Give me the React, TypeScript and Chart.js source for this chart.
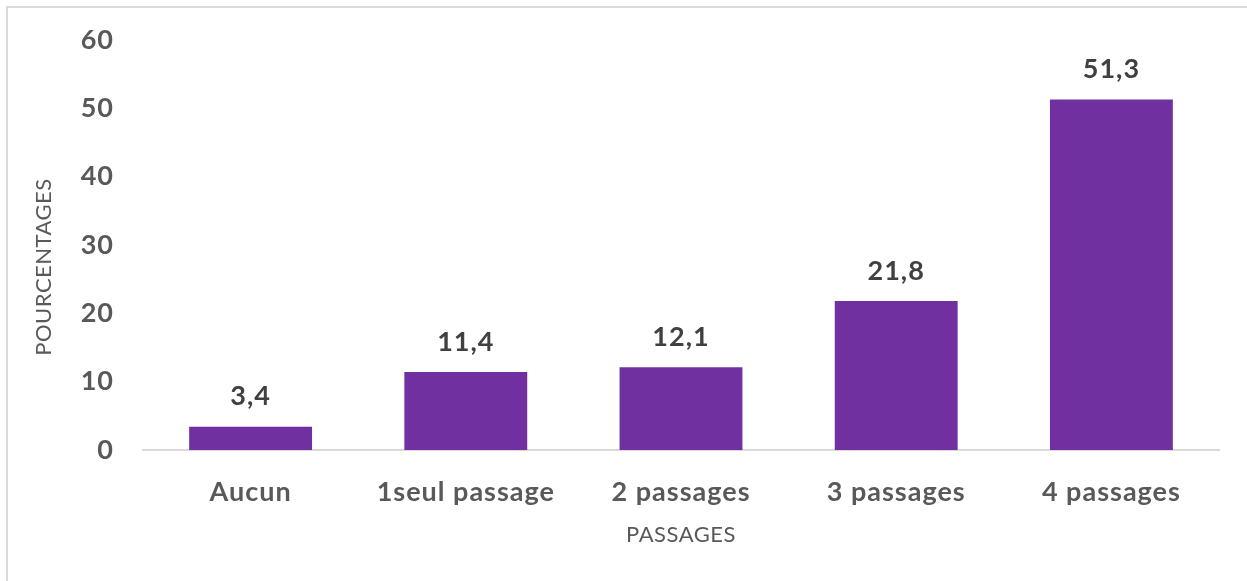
import React, { useEffect, useRef } from "react";
import { Chart, registerables } from "chart.js";

Chart.register(...registerables);

const categories: string[] = ["Aucun", "1seul passage", "2 passages", "3 passages", "4 passages"];
const values: number[] = [3.4, 11.4, 12.1, 21.8, 51.3];
const valueLabels: string[] = ["3,4", "11,4", "12,1", "21,8", "51,3"];
const yTicks: number[] = [0, 10, 20, 30, 40, 50, 60];
const xTitle = "PASSAGES";
const yTitle = "POURCENTAGES";

const FONT = "Lato, 'Open Sans', sans-serif";

const labelsPlugin = {
  id: "labelsAndTitles",
  beforeDraw(chart: any) {
    chart.ctx.letterSpacing = "1px";
  },
  afterDatasetsDraw(chart: any) {
    const { ctx, chartArea } = chart;
    const meta = chart.getDatasetMeta(0);
    ctx.save();
    ctx.letterSpacing = "1px";
    ctx.font = `bold 27px ${FONT}`;
    ctx.fillStyle = "#404040";
    ctx.textAlign = "center";
    ctx.textBaseline = "middle";
    meta.data.forEach((bar: any, i: number) => {
      ctx.fillText(valueLabels[i], bar.x, bar.y - 30);
    });
    ctx.letterSpacing = "0.5px";
    ctx.font = `22px ${FONT}`;
    ctx.fillStyle = "#595959";
    ctx.fillText(xTitle, (chartArea.left + chartArea.right) / 2, 535);
    ctx.translate(44, 267);
    ctx.rotate(-Math.PI / 2);
    ctx.fillText(yTitle, 0, 0);
    ctx.restore();
  },
};

export default function App() {
  const ref = useRef<HTMLCanvasElement | null>(null);
  useEffect(() => {
    if (!ref.current) return;
    const chart = new Chart(ref.current, {
      type: "bar",
      data: {
        labels: categories,
        datasets: [
          {
            data: values,
            backgroundColor: "#7030A0",
            borderWidth: 0,
            categoryPercentage: 1,
            barPercentage: 0.571,
          },
        ],
      },
      options: {
        animation: false,
        responsive: false,
        devicePixelRatio: 1,
        layout: { padding: { left: 0, top: 40, right: 28, bottom: 0 } },
        plugins: { legend: { display: false }, tooltip: { enabled: false }, title: { display: false } },
        scales: {
          x: {
            grid: { display: false, drawTicks: false },
            border: { display: true, color: "#D9D9D9", width: 2 },
            ticks: {
              color: "#595959",
              font: { family: FONT, size: 27, weight: "bold" },
              padding: 26,
              maxRotation: 0,
              autoSkip: false,
            },
            afterFit: (s: any) => {
              s.height = 131;
              s.paddingLeft = 0;
              s.paddingRight = 0;
            },
          },
          y: {
            min: 0,
            max: 60,
            afterBuildTicks: (s: any) => {
              s.ticks = yTicks.map((v) => ({ value: v }));
            },
            grid: { display: false, drawTicks: false },
            border: { display: false },
            ticks: {
              color: "#595959",
              font: { family: FONT, size: 27, weight: "bold" },
              padding: 29,
            },
            afterFit: (s: any) => {
              s.width = 143;
              s.paddingTop = 0;
              s.paddingBottom = 0;
            },
          },
        },
      },
      plugins: [labelsPlugin],
    });
    return () => chart.destroy();
  }, []);
  return (
    <div style={{ position: "fixed", left: 0, top: 0, width: 1247, height: 581, background: "#fff", overflow: "hidden" }}>
      <div
        style={{
          position: "absolute",
          left: 6,
          top: 6,
          width: 1300,
          height: 700,
          border: "2px solid #D9D9D9",
        }}
      />
      <canvas ref={ref} width={1247} height={581} style={{ position: "absolute", left: 0, top: 0 }} />
    </div>
  );
}
